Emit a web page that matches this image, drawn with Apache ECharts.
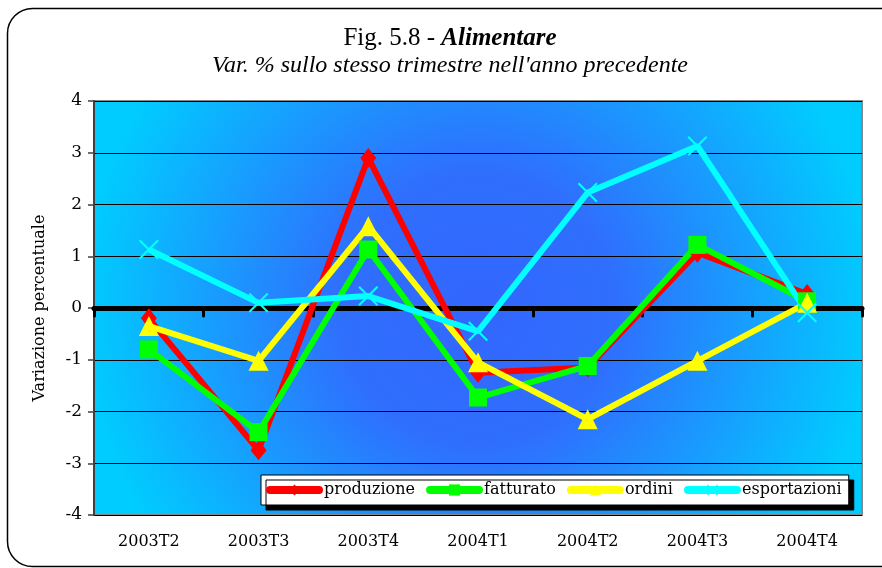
<!DOCTYPE html>
<html><head><meta charset="utf-8">
<script src="https://cdn.jsdelivr.net/npm/echarts@6/dist/echarts.min.js"></script>
<style>html,body{margin:0;padding:0;background:#fff}#c{width:882px;height:568px}</style>
</head><body><div id="c"></div>
<script>
const categories = ['2003T2','2003T3','2003T4','2004T1','2004T2','2004T3','2004T4'];
const produzione = [-0.2, -2.75, 2.9, -1.25, -1.15, 1.07, 0.27];
const fatturato = [-0.8, -2.4, 1.13, -1.73, -1.12, 1.22, 0.13];
const ordini = [-0.35, -1.02, 1.58, -1.05, -2.15, -1.02, 0.1];
const esportazioni = [1.13, 0.1, 0.23, -0.45, 2.23, 3.13, -0.09];
const seriesNames = ['produzione','fatturato','ordini','esportazioni'];
const yTicks = [-4,-3,-2,-1,0,1,2,3,4];

const serif = 'DejaVu Serif';
const xPath = 'path://M0,1.5 L1.5,0 L10,8.5 L18.5,0 L20,1.5 L11.5,10 L20,18.5 L18.5,20 L10,11.5 L1.5,20 L0,18.5 L8.5,10 Z';
const chart = echarts.init(document.getElementById('c'), null, {renderer:'canvas'});
function mk(name, data, color, symbol, size){
  return {name, type:'line', data, xAxisIndex:0, symbol, symbolSize:size,
    lineStyle:{color, width:6}, itemStyle:{color}, z:3, animation:false};
}
chart.setOption({
  animation:false,
  backgroundColor:'#fff',
  graphic:[{type:'rect', z:-10, shape:{x:7.5, y:8.5, width:900, height:558, r:25},
    style:{fill:'#fff', stroke:'#000', lineWidth:1.5}}],
  title:[{text:'{a|Fig. 5.8 - }{b|Alimentare}', left:445, textAlign:'center', top:21,
    textStyle:{rich:{a:{fontFamily:'Liberation Serif', fontSize:25, fontWeight:'normal', color:'#000'},
      b:{fontFamily:'Liberation Serif', fontSize:25, fontWeight:'bold', fontStyle:'italic', color:'#000'}}}},
   {text:"Var. % sullo stesso trimestre nell'anno precedente", left:445, textAlign:'center', top:49,
    textStyle:{fontFamily:'Liberation Serif', fontSize:24, fontStyle:'italic', fontWeight:'normal', color:'#000'}}],
  legend:{data:seriesNames, left:261, top:475, orient:'horizontal',
    backgroundColor:'#fff', borderColor:'#000', borderWidth:1, padding:[7,7,7,5],
    shadowColor:'#000', shadowBlur:0, shadowOffsetX:5, shadowOffsetY:5,
    itemWidth:49, itemHeight:14, itemGap:11,
    lineStyle:{width:8, cap:'round'},
    textStyle:{fontFamily:serif, fontSize:16, color:'#000'}},
  grid:{left:94, right:20, top:101, bottom:53, show:true, borderColor:'#888', borderWidth:2,
    backgroundColor:{type:'radial', x:0.5, y:0.5, r:0.95,
      colorStops:[{offset:0,color:'#3366ff'},{offset:0.35,color:'#2f6ffd'},{offset:1,color:'#00ccff'}]}},
  xAxis:[
    {type:'category', data:categories, position:'bottom', axisLine:{show:false, onZero:false},
     axisTick:{show:false}, axisLabel:{fontFamily:serif, fontSize:16, color:'#000', margin:19}},
    {type:'category', data:categories, position:'top', axisLine:{show:true, onZero:true, lineStyle:{color:'#000', width:5}},
     axisTick:{show:true, inside:true, length:8, lineStyle:{color:'#000', width:3, cap:'round'}},
     axisLabel:{show:false}, z:2}
  ],
  yAxis:{type:'value', min:-4, max:4, interval:1,
    name:'Variazione percentuale', nameLocation:'middle', nameGap:46, nameRotate:90,
    nameTextStyle:{fontFamily:serif, fontSize:16, color:'#000'},
    axisLine:{show:true, lineStyle:{color:'#404040', width:2}},
    axisTick:{show:true, length:6, lineStyle:{color:'#404040', width:1.5}},
    axisLabel:{fontFamily:serif, fontSize:17, color:'#000', margin:12},
    splitLine:{lineStyle:{color:'#000', width:1}}},
  series:[
    mk('produzione', produzione, '#ff0000', 'diamond', [16,20]),
    mk('fatturato', fatturato, '#00ff00', 'rect', 18),
    mk('ordini', ordini, '#ffff00', 'triangle', 20),
    mk('esportazioni', esportazioni, '#00ffff', xPath, 20)
  ]
});
</script></body></html>
